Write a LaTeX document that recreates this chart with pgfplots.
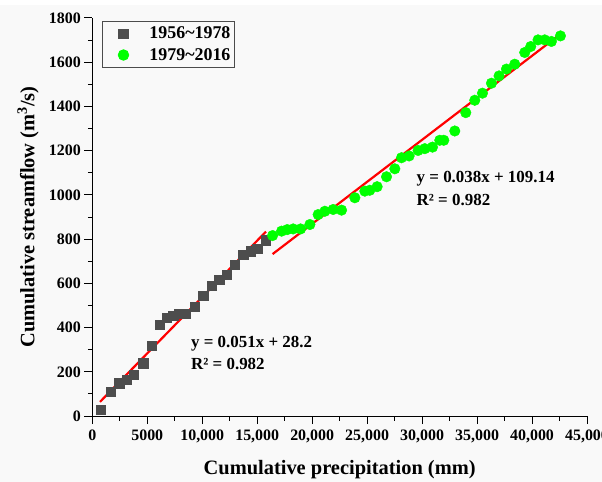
\documentclass[border=0pt]{standalone}
\usepackage{fontspec}
\setmainfont{Liberation Serif}
\usepackage{pgfplots}
\pgfplotsset{compat=1.18}
\definecolor{sqgrey}{HTML}{4D4D4D}
\definecolor{lime}{HTML}{00FF00}
\definecolor{bggrey}{HTML}{F9F9F9}
\begin{document}
\begin{tikzpicture}
\fill[bggrey] (0,0) rectangle (602bp,477bp);
\begin{axis}[
  scale only axis,
  width=494.7bp, height=398bp,
  at={(92.3bp,66bp)}, anchor=south west,
  xmin=0, xmax=45000, ymin=0, ymax=1800,
  axis lines=left,
  axis line style={-, line width=1pt},
  clip=false,
  tick align=outside,
  major tick length=8bp, minor tick length=4.5bp,
  every tick/.style={line width=1pt, black},
  scaled x ticks=false,
  xtick={0,5000,...,45000},
  xticklabels={0,5000,{10,000},{15,000},{20,000},{25,000},{30,000},{35,000},{40,000},{45,000}},
  ytick={0,200,...,1800},
  minor tick num=1,
  /pgf/number format/assume math mode=true,
  ticklabel style={font=\bfseries\fontsize{16}{16}\selectfont},
  xticklabel style={yshift=-2bp},
  yticklabel style={/pgf/number format/1000 sep={}},
  xlabel={Cumulative precipitation (mm)},
  ylabel={Cumulative streamflow (m\textsuperscript{3}/s)},
  label style={font=\bfseries\fontsize{20.5}{22}\selectfont},
  xlabel style={at={(axis description cs:0.5,-0.1482)}, anchor=base},
  ylabel style={at={(axis description cs:-0.1172,0.5)}, anchor=base},
  legend style={at={(axis description cs:0.019,0.9925)}, anchor=north west, draw=black!70, line width=0.8pt,
    fill=none, font=\bfseries\fontsize{18}{20}\selectfont, inner xsep=2bp, inner ysep=4bp,
    nodes={inner sep=1.5bp}, column sep=3bp, row sep=5bp},
  legend cell align=left,
  legend image code/.code={\path (0bp,0bp) (40bp,0bp);\draw[mark repeat=2,mark phase=2,#1] plot coordinates {(0bp,0bp)(19bp,0bp)(38bp,0bp)};},
]
\addplot[only marks, mark=square*, mark size=4.6bp, color=sqgrey] coordinates {
(764,30) (1700,110) (2455,148) (3127,163) (3790,186) (4636,239) (5400,319)
(6155,413) (6764,443) (7364,453) (7910,461) (8518,462) (9336,493) (10091,545)
(10882,591) (11545,617) (12218,639) (12973,684) (13727,730) (14400,745)
(15000,757) (15764,795)
};
\addlegendentry{1956\textasciitilde 1978}
\addplot[only marks, mark=*, mark size=5.3bp, color=lime] coordinates {
(16400,816) (17218,836) (17727,843) (18273,846) (18945,846) (19791,866)
(20545,911) (21155,926) (21909,934) (22673,931) (23882,987) (24791,1017)
(25245,1021) (25909,1037) (26764,1082) (27518,1118) (28127,1168) (28818,1176)
(29636,1201) (30245,1209) (30945,1216) (31609,1247) (31973,1247) (32973,1289)
(33973,1372) (34791,1428) (35491,1460) (36309,1505) (37000,1538) (37673,1569)
(38427,1591) (39336,1644) (39882,1671) (40545,1701) (41155,1701) (41764,1694)
(42582,1719)
};
\addlegendentry{1979\textasciitilde 2016}
\addplot[red, line width=2.2bp, forget plot] coordinates {(700,63.9) (15800,834)};
\addplot[red, line width=2.2bp, forget plot] coordinates {(16400,732.3) (42700,1731.7)};
\node[anchor=west, font=\bfseries\fontsize{17}{18}\selectfont, inner sep=0pt] at (axis cs:8973,326) {y = 0.051x + 28.2};
\node[anchor=west, font=\bfseries\fontsize{17}{18}\selectfont, inner sep=0pt] at (axis cs:8973,236) {R² = 0.982};
\node[anchor=west, font=\bfseries\fontsize{17}{18}\selectfont, inner sep=0pt] at (axis cs:29490,1074) {y = 0.038x + 109.14};
\node[anchor=west, font=\bfseries\fontsize{17}{18}\selectfont, inner sep=0pt] at (axis cs:29490,979) {R² = 0.982};
\end{axis}
\pgfresetboundingbox
\path[use as bounding box] (0,0) rectangle (602bp,482bp);
\end{tikzpicture}
\end{document}
